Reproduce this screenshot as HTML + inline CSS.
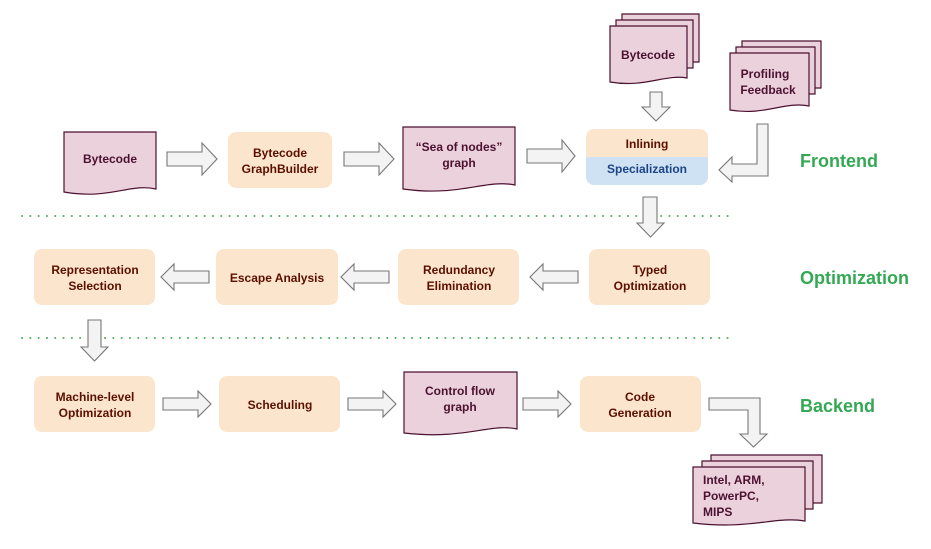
<!DOCTYPE html>
<html><head><style>
html,body{margin:0;padding:0;background:#fff;width:931px;height:549px;overflow:hidden}
text{font-family:"Liberation Sans",Arial,sans-serif;font-weight:bold;font-size:12px;text-anchor:middle}
.o{fill:#fce5cd}
.ot{fill:#5b0f00}
.d{fill:#ead1dc;stroke:#4c1130;stroke-width:1.2}
.dt{fill:#4c1130}
.a{fill:#f3f3f3;stroke:#777;stroke-width:1.1}
.g{fill:#34a853;font-size:18px;text-anchor:start}
</style></head><body>
<svg width="931" height="549" viewBox="0 0 931 549" xmlns="http://www.w3.org/2000/svg">
<defs></defs>
<!-- dotted lines -->
<line x1="22" y1="216" x2="730" y2="216" stroke="#4fb060" stroke-width="2" stroke-dasharray="0.1 8.2" stroke-linecap="round"/>
<line x1="22" y1="338" x2="730" y2="338" stroke="#4fb060" stroke-width="2" stroke-dasharray="0.1 8.2" stroke-linecap="round"/>

<!-- Row1 docs -->
<path class="d" d="M64,132 H156 V189 C130,183 110,200 64,192 Z"/>
<text class="dt" x="110" y="163">Bytecode</text>
<path class="d" d="M403,127 H515 V185 C485,179 460,197 403,189 Z"/>
<text class="dt" x="459" y="151">“Sea of nodes”</text>
<text class="dt" x="459" y="167">graph</text>

<!-- top bytecode stack -->
<path class="d" d="M622,14 H699 V62 L622,62 Z"/>
<path class="d" d="M616,20 H693 V68 L616,68 Z"/>
<path class="d" d="M610,26 H687 V78 C665,74 645,88 610,82 Z"/>
<text class="dt" x="648" y="59">Bytecode</text>
<!-- profiling stack -->
<path class="d" d="M742,41 H821 V88 L742,88 Z"/>
<path class="d" d="M736,47 H815 V94 L736,94 Z"/>
<path class="d" d="M730,53 H809 V106 C785,101 765,116 730,110 Z"/>
<text class="dt" x="765" y="78">Profiling</text>
<text class="dt" x="768" y="94">Feedback</text>

<!-- Row1 boxes -->
<rect class="o" x="228" y="132" width="104" height="56" rx="8"/>
<text class="ot" x="280" y="157">Bytecode</text>
<text class="ot" x="280" y="173">GraphBuilder</text>
<path d="M586,137 a8,8 0 0 1 8,-8 H700 a8,8 0 0 1 8,8 V157 H586 Z" fill="#fce5cd"/>
<path d="M586,157 H708 V177 a8,8 0 0 1 -8,8 H594 a8,8 0 0 1 -8,-8 Z" fill="#cfe2f3"/>
<text class="ot" x="647" y="148">Inlining</text>
<text x="647" y="173" fill="#1c4587">Specialization</text>

<!-- Row1 arrows -->
<path class="a" d="M167,152 H202 V143 L217,159 L202,175 V166 H167 Z"/>
<path class="a" d="M344,152 H379 V143 L394,159 L379,175 V166 H344 Z"/>
<path class="a" d="M527,149 H562 V140 L575,156 L562,172 V163 H527 Z"/>
<path class="a" d="M650,92 H662 V107 H670 L656,121 L642,107 H650 Z"/>
<path class="a" d="M757,124 H768 V176 H732 V182 L719,170 L732,157 V164 H757 Z"/>
<path class="a" d="M643,197 H657 V223 H664 L650.5,237 L637,223 H643 Z"/>

<text class="g" x="800" y="167">Frontend</text>
<text class="g" x="800" y="284">Optimization</text>
<text class="g" x="800" y="412">Backend</text>

<!-- Row2 -->
<rect class="o" x="34" y="249" width="121" height="56" rx="8"/>
<text class="ot" x="95" y="274">Representation</text>
<text class="ot" x="95" y="290">Selection</text>
<rect class="o" x="216" y="249" width="122" height="56" rx="8"/>
<text class="ot" x="277" y="282">Escape Analysis</text>
<rect class="o" x="398" y="249" width="121" height="56" rx="8"/>
<text class="ot" x="459" y="274">Redundancy</text>
<text class="ot" x="459" y="290">Elimination</text>
<rect class="o" x="589" y="249" width="121" height="56" rx="8"/>
<text class="ot" x="650" y="274">Typed</text>
<text class="ot" x="650" y="290">Optimization</text>

<path class="a" d="M578,271 H543 V264 L530,277 L543,290 V283 H578 Z"/>
<path class="a" d="M389,271 H354 V264 L341,277 L354,290 V283 H389 Z"/>
<path class="a" d="M209,271 H174 V264 L161,277 L174,290 V283 H209 Z"/>
<path class="a" d="M88,320 H101 V347 H108 L94.5,361 L81,347 H88 Z"/>

<!-- Row3 -->
<rect class="o" x="34" y="376" width="121" height="56" rx="8"/>
<text class="ot" x="95" y="401">Machine-level</text>
<text class="ot" x="95" y="417">Optimization</text>
<rect class="o" x="219" y="376" width="121" height="56" rx="8"/>
<text class="ot" x="280" y="409">Scheduling</text>
<path class="d" d="M404,372 H517 V429 C490,423 465,440 404,433 Z"/>
<text class="dt" x="460" y="395">Control flow</text>
<text class="dt" x="460" y="411">graph</text>
<rect class="o" x="580" y="376" width="121" height="56" rx="8"/>
<text class="ot" x="640" y="401">Code</text>
<text class="ot" x="640" y="417">Generation</text>

<path class="a" d="M163,398 H198 V391 L211,404 L198,417 V410 H163 Z"/>
<path class="a" d="M348,398 H383 V391 L396,404 L383,417 V410 H348 Z"/>
<path class="a" d="M523,398 H558 V391 L571,404 L558,417 V410 H523 Z"/>
<path class="a" d="M709,398 H760 V434 H767 L753.5,447 L740,434 H748 V410 H709 Z"/>

<!-- targets stack -->
<path class="d" d="M711,455 H822 V503 L711,503 Z"/>
<path class="d" d="M702,461 H813 V509 L702,509 Z"/>
<path class="d" d="M693,467 H805 V521 C775,516 750,530 693,523 Z"/>
<g class="dt" style="text-anchor:start">
<text class="dt" x="703" y="484" style="text-anchor:start">Intel, ARM,</text>
<text class="dt" x="703" y="500" style="text-anchor:start">PowerPC,</text>
<text class="dt" x="703" y="516" style="text-anchor:start">MIPS</text>
</g>
</svg>
</body></html>
